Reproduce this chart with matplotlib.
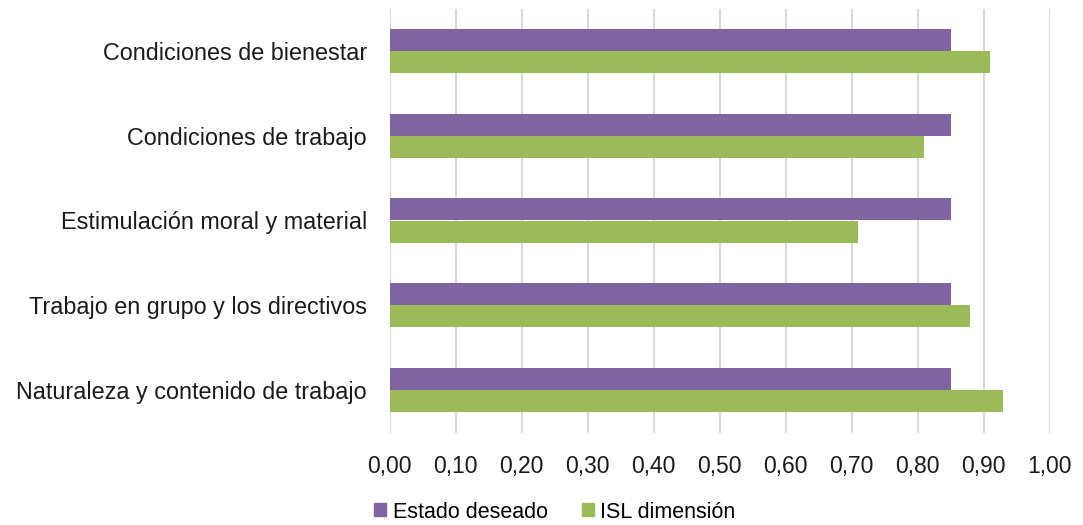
import matplotlib.pyplot as plt
import numpy as np
from matplotlib.patches import Patch

plt.rcParams['font.family'] = ['Liberation Sans', 'DejaVu Sans']

categorias = [
    "Condiciones de bienestar",
    "Condiciones de trabajo",
    "Estimulación moral y material",
    "Trabajo en grupo y los directivos",
    "Naturaleza y contenido de trabajo",
]
estado_deseado = [0.85, 0.85, 0.85, 0.85, 0.85]
isl_dimension = [0.91, 0.81, 0.71, 0.88, 0.93]
ticks_x = [0.0, 0.1, 0.2, 0.3, 0.4, 0.5, 0.6, 0.7, 0.8, 0.9, 1.0]

morado = '#8064a2'
verde = '#9bbb59'

fig = plt.figure(figsize=(10.83, 5.25), dpi=100)
ax = fig.add_axes([389.7 / 1083, 1 - 432.5 / 525, 660 / 1083, 424 / 525])

y = np.arange(len(categorias))
alto = 0.26
ax.barh(y - alto / 2, estado_deseado, height=alto, color=morado, zorder=3)
ax.barh(y + alto / 2, isl_dimension, height=alto, color=verde, zorder=3)

ax.set_ylim(len(categorias) - 0.5, -0.5)
ax.set_xlim(0, 1.0)
ax.set_yticks(y)
ax.set_yticklabels(categorias, fontsize=16.8, color='#1a1a1a')
ax.set_xticks(ticks_x)
ax.set_xticklabels([f"{v:.2f}".replace('.', ',') for v in ticks_x], fontsize=16.5, color='#1a1a1a')
ax.tick_params(axis='both', length=0)
ax.tick_params(axis='x', pad=16)
ax.tick_params(axis='y', pad=16.5)

ax.grid(axis='x', color='#d9d9d9', linewidth=1.5, zorder=0)
for s in ax.spines.values():
    s.set_visible(False)

handles = [Patch(color=morado, label='Estado deseado'),
           Patch(color=verde, label='ISL dimensión')]
fig.legend(handles=handles, loc='center', bbox_to_anchor=(555 / 1083, 1 - 512 / 525),
           ncol=2, frameon=False, fontsize=15.5, handlelength=0.55, handleheight=0.55,
           handletextpad=0.3, columnspacing=1.6, borderpad=0)

fig.savefig('out.png', dpi=100)
